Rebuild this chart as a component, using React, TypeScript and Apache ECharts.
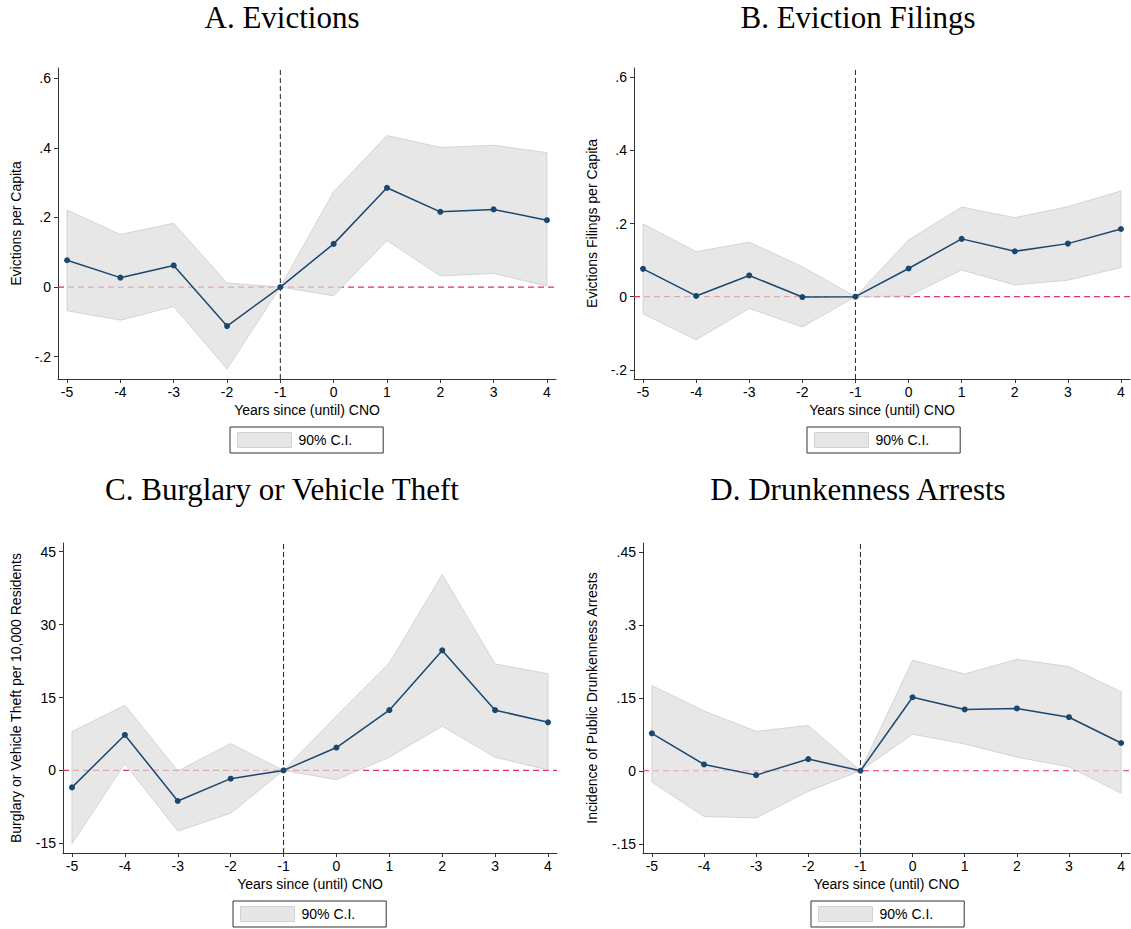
import React, { useEffect, useRef } from "react";
import * as echarts from "echarts";

const YEARS = [-5, -4, -3, -2, -1, 0, 1, 2, 3, 4];

const TITLES = ["A. Evictions", "B. Eviction Filings", "C. Burglary or Vehicle Theft", "D. Drunkenness Arrests"];
const Y_NAMES = [
  "Evictions per Capita",
  "Evictions Filings per Capita",
  "Burglary or Vehicle Theft per 10,000 Residents",
  "Incidence of Public Drunkenness Arrests",
];
const X_NAME = "Years since (until) CNO";
const LEGEND_NAME = "90% C.I.";

// A. Evictions
const evictEst = [0.077, 0.027, 0.062, -0.112, 0, 0.124, 0.285, 0.216, 0.223, 0.192];
const evictHi = [0.221, 0.151, 0.183, 0.012, 0, 0.274, 0.435, 0.401, 0.407, 0.386];
const evictLo = [-0.068, -0.095, -0.056, -0.235, 0, -0.025, 0.134, 0.032, 0.039, 0.003];
// B. Eviction Filings
const filingEst = [0.076, 0.002, 0.058, -0.001, 0, 0.077, 0.158, 0.124, 0.145, 0.185];
const filingHi = [0.199, 0.123, 0.149, 0.082, 0, 0.155, 0.245, 0.216, 0.246, 0.289];
const filingLo = [-0.047, -0.118, -0.032, -0.083, 0, 0.002, 0.073, 0.032, 0.045, 0.08];
// C. Burglary or Vehicle Theft
const burgEst = [-3.5, 7.3, -6.3, -1.7, 0, 4.7, 12.4, 24.7, 12.4, 9.9];
const burgHi = [8.0, 13.4, -0.1, 5.5, 0, 11.2, 22.1, 40.3, 21.9, 19.9];
const burgLo = [-15.1, 1.4, -12.5, -8.8, 0, -1.9, 2.7, 9.1, 2.7, 0.1];
// D. Drunkenness Arrests
const drunkEst = [0.077, 0.013, -0.009, 0.024, 0, 0.151, 0.126, 0.128, 0.11, 0.057];
const drunkHi = [0.175, 0.123, 0.081, 0.093, 0, 0.227, 0.199, 0.229, 0.214, 0.162];
const drunkLo = [-0.023, -0.094, -0.097, -0.042, 0, 0.075, 0.055, 0.028, 0.008, -0.046];

const TICKS_A = [-0.2, 0, 0.2, 0.4, 0.6];
const TICKS_B = [-0.2, 0, 0.2, 0.4, 0.6];
const TICKS_C = [-15, 0, 15, 30, 45];
const TICKS_D = [-0.15, 0, 0.15, 0.3, 0.45];

const EST = [evictEst, filingEst, burgEst, drunkEst];
const HI = [evictHi, filingHi, burgHi, drunkHi];
const LO = [evictLo, filingLo, burgLo, drunkLo];
const TICKS = [TICKS_A, TICKS_B, TICKS_C, TICKS_D];

const X_MIN = -5.17;
const X_MAX = 4.17;
const EVENT_YEAR = -1;

// layout (pixels) and axis extents
const GRIDS = [
  { left: 58, top: 68, width: 498, height: 311, ymin: -0.264, ymax: 0.629, nameGap: 35, tx: 282, ty: 17, lx: 230, ly: 427 },
  { left: 634, top: 68, width: 496, height: 311, ymin: -0.225, ymax: 0.625, nameGap: 35, tx: 858, ty: 17, lx: 807, ly: 427 },
  { left: 63, top: 543, width: 494, height: 310, ymin: -17.0, ymax: 46.8, nameGap: 40, tx: 282, ty: 489, lx: 233, ly: 901 },
  { left: 643, top: 543, width: 487, height: 310, ymin: -0.169, ymax: 0.468, nameGap: 44, tx: 858, ty: 489, lx: 811, ly: 901 },
];

const stataFmt = (v: number) => {
  if (Math.abs(v) < 1e-9) return "0";
  let s = String(Math.round(v * 1000) / 1000);
  s = s.replace(/^0\./, ".").replace(/^-0\./, "-.");
  return s;
};

const NAVY = "#1a476f";
const AXIS = "#333333";
const FONT = "'Liberation Sans', Arial, sans-serif";

function buildOption() {
  const grid: any[] = [];
  const xAxis: any[] = [];
  const yAxis: any[] = [];
  const series: any[] = [];
  const legend: any[] = [];
  const graphic: any[] = [];

  GRIDS.forEach((g, i) => {
    grid.push({ left: g.left, top: g.top, width: g.width, height: g.height, containLabel: false });
    xAxis.push({
      type: "value",
      gridIndex: i,
      min: X_MIN,
      max: X_MAX,
      name: X_NAME,
      nameLocation: "middle",
      nameGap: 24,
      nameTextStyle: { fontSize: 14, color: "#000", fontFamily: FONT },
      axisLine: { show: true, onZero: false, lineStyle: { color: AXIS, width: 1 } },
      axisTick: { show: true, length: 4, inside: false, customValues: YEARS, lineStyle: { color: AXIS } },
      axisLabel: { customValues: YEARS, fontSize: 14, color: "#000", fontFamily: FONT, margin: 6, formatter: (v: number) => String(v) },
      splitLine: { show: false },
    });
    yAxis.push({
      type: "value",
      gridIndex: i,
      min: g.ymin,
      max: g.ymax,
      name: Y_NAMES[i],
      nameLocation: "middle",
      nameGap: g.nameGap,
      nameRotate: 90,
      nameTextStyle: { fontSize: 14, color: "#000", fontFamily: FONT },
      axisLine: { show: true, onZero: false, lineStyle: { color: AXIS, width: 1 } },
      axisTick: { show: true, length: 4, inside: false, customValues: TICKS[i], lineStyle: { color: AXIS } },
      axisLabel: { customValues: TICKS[i], fontSize: 14, color: "#000", fontFamily: FONT, margin: 7, formatter: (v: number) => stataFmt(v) },
      splitLine: { show: false },
    });

    const lo = LO[i];
    const hi = HI[i];
    const est = EST[i];

    // zero reference line (under the band)
    series.push({
      type: "line",
      name: "zero" + i,
      xAxisIndex: i,
      yAxisIndex: i,
      data: [[X_MIN, 0], [X_MAX, 0]],
      z: 1,
      silent: true,
      symbol: "none",
      lineStyle: { color: "#e0305f", type: [6, 4], width: 1.2 },
    });

    // confidence band
    series.push({
      type: "custom",
      name: LEGEND_NAME,
      xAxisIndex: i,
      yAxisIndex: i,
      z: 2,
      itemStyle: { color: "#e6e6e6" },
      data: YEARS.map((x, k) => [x, lo[k], hi[k]]),
      encode: { x: 0, y: [1, 2] },
      renderItem: (params: any, api: any) => {
        if (params.dataIndex !== 0) return { type: "group", children: [] };
        const upper = YEARS.map((x, k) => api.coord([x, hi[k]]));
        const lower = YEARS.map((x, k) => api.coord([x, lo[k]])).reverse();
        return {
          type: "polygon",
          shape: { points: upper.concat(lower) },
          style: { fill: "rgba(221,221,221,0.7)", stroke: "rgba(205,205,205,0.8)", lineWidth: 1 },
        };
      },
    });

    // vertical event line
    series.push({
      type: "line",
      name: "event" + i,
      xAxisIndex: i,
      yAxisIndex: i,
      data: [[EVENT_YEAR, g.ymin], [EVENT_YEAR, g.ymax]],
      z: 3,
      silent: true,
      symbol: "none",
      lineStyle: { color: "#222", type: [5, 3], width: 1 },
    });

    // point estimates
    series.push({
      type: "line",
      name: "est" + i,
      xAxisIndex: i,
      yAxisIndex: i,
      z: 5,
      data: YEARS.map((x, k) => [x, est[k]]),
      symbol: "circle",
      symbolSize: 6,
      showSymbol: true,
      lineStyle: { color: NAVY, width: 1.5 },
      itemStyle: { color: NAVY },
    });

    legend.push({
      left: g.lx,
      top: g.ly,
      orient: "horizontal",
      selectedMode: false,
      data: [{ name: LEGEND_NAME, icon: "rect", itemStyle: { color: "#e6e6e6", borderColor: "#d2d2d2", borderWidth: 1 } }],
      itemWidth: 54,
      itemHeight: 15,
      borderColor: AXIS,
      borderWidth: 1,
      padding: [5, 31, 5, 7],
      textStyle: { fontSize: 14, color: "#000", fontFamily: FONT, padding: [0, 0, 0, 2] },
    });

    graphic.push({
      type: "text",
      x: g.tx,
      y: g.ty,
      style: {
        text: TITLES[i],
        fontSize: 31,
        fontFamily: "'Liberation Serif', 'Times New Roman', serif",
        fill: "#000",
        align: "center",
        verticalAlign: "middle",
      },
    });
  });

  return {
    animation: false,
    backgroundColor: "#ffffff",
    grid,
    xAxis,
    yAxis,
    series,
    legend,
    graphic,
  };
}

export default function App() {
  const ref = useRef<HTMLDivElement>(null);
  useEffect(() => {
    if (!ref.current) return;
    const chart = echarts.init(ref.current, undefined, { renderer: "svg" });
    chart.setOption(buildOption() as any);
    return () => chart.dispose();
  }, []);
  return (
    <div
      ref={ref}
      style={{ position: "absolute", left: 0, top: 0, width: 1131, height: 929, background: "#fff" }}
    />
  );
}
